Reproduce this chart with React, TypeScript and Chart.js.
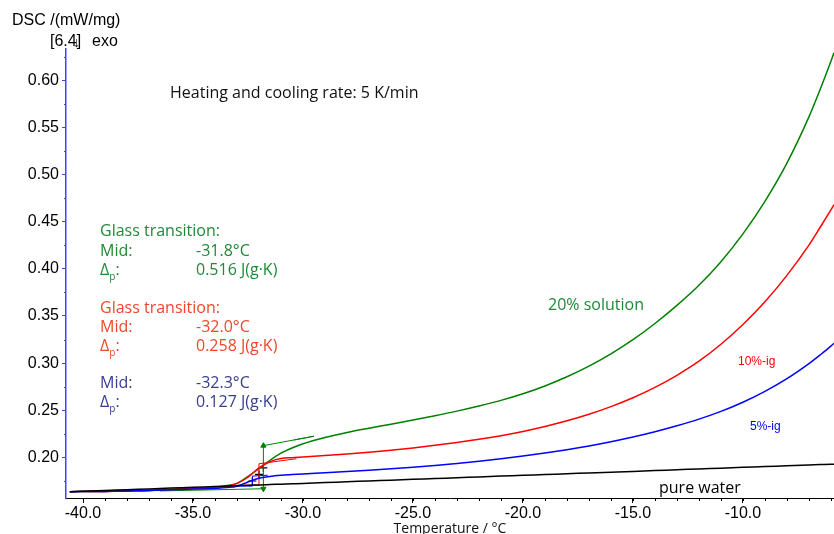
import React, { useEffect, useRef } from "react";
import { Chart, registerables } from "chart.js";

Chart.register(...registerables);

// Temperatures (°C) at which the curves were read
const temps = [-40.6, -39, -38, -37, -36, -35, -34, -33.5, -33, -32.5, -32, -31.5, -31, -30.5, -30, -29, -28, -27, -26, -25, -24, -23, -22, -21, -20, -19, -18, -17, -16, -15, -14, -13, -12, -11, -10, -9, -8, -7, -6.5, -6, -5.86];

// DSC signal (mW/mg)
const solution20 = [0.1637, 0.164, 0.1645, 0.165, 0.166, 0.167, 0.1685, 0.170, 0.1725, 0.180, 0.188, 0.197, 0.2045, 0.210, 0.2145, 0.2212, 0.2265, 0.231, 0.2352, 0.2396, 0.2442, 0.2491, 0.2545, 0.2605, 0.2675, 0.2758, 0.2855, 0.2968, 0.3098, 0.3248, 0.342, 0.3612, 0.3825, 0.4075, 0.437, 0.4715, 0.512, 0.561, 0.5895, 0.620, 0.629];
const ig10 = [0.1637, 0.164, 0.1645, 0.165, 0.166, 0.167, 0.168, 0.169, 0.1725, 0.179, 0.189, 0.1955, 0.1988, 0.1998, 0.2005, 0.202, 0.2037, 0.2056, 0.2077, 0.2101, 0.2128, 0.2158, 0.2192, 0.2231, 0.2276, 0.2328, 0.2388, 0.2458, 0.2539, 0.2633, 0.2743, 0.2871, 0.302, 0.320, 0.341, 0.365, 0.393, 0.425, 0.4435, 0.4625, 0.468];
const ig5 = [0.1637, 0.164, 0.1645, 0.165, 0.1658, 0.1665, 0.167, 0.168, 0.1695, 0.174, 0.178, 0.1798, 0.181, 0.1818, 0.1825, 0.1837, 0.185, 0.1864, 0.1879, 0.1896, 0.1915, 0.1936, 0.1959, 0.1985, 0.2014, 0.2046, 0.2082, 0.2122, 0.2167, 0.2217, 0.2273, 0.2336, 0.2406, 0.2488, 0.2585, 0.270, 0.2835, 0.2995, 0.3085, 0.318, 0.321];
const pureWater = [0.1637, 0.1649, 0.1658, 0.1666, 0.1675, 0.1683, 0.1692, 0.1696, 0.170, 0.1704, 0.1709, 0.1713, 0.1717, 0.1721, 0.1725, 0.1734, 0.1742, 0.1751, 0.1759, 0.1768, 0.1776, 0.1785, 0.1793, 0.1802, 0.181, 0.1819, 0.1827, 0.1836, 0.1844, 0.1852, 0.1861, 0.1869, 0.1878, 0.1886, 0.1895, 0.1903, 0.1912, 0.192, 0.1924, 0.1928, 0.1929];

// Glass transition construction (T, value)
const greenArrowT = [-31.8, -31.8];
const greenArrowV = [0.1668, 0.2125];
const greenUpperT = [-31.8, -29.5, -30.4];
const greenUpperV = [0.2125, 0.2225, 0.2185];
const greenLowerT = [-36.5, -31.8];
const greenLowerV = [0.1645, 0.1668];
const redStepT = [-33.0, -32.0, -32.0, -30.3];
const redStepV = [0.1705, 0.1705, 0.1933, 0.1986];
const blueStepT = [-33.3, -32.3, -32.3, -31.6];
const blueStepV = [0.1696, 0.1696, 0.1802, 0.1812];
const midT = [-31.8, -32.0, -32.3];
const midV = [0.189, 0.182, 0.175];

const xMajorTicks = [-40, -35, -30, -25, -20, -15, -10];
const yMajorTicks = [0.2, 0.25, 0.3, 0.35, 0.4, 0.45, 0.5, 0.55, 0.6];
const xMinorTicks = [-40, -39, -38, -37, -36, -35, -34, -33, -32, -31, -30, -29, -28, -27, -26, -25, -24, -23, -22, -21, -20, -19, -18, -17, -16, -15, -14, -13, -12, -11, -10, -9, -8, -7, -6];
const yMinorTicks = [0.175, 0.225, 0.275, 0.325, 0.375, 0.425, 0.475, 0.525, 0.575, 0.625];

const GREEN = "rgb(0,128,0)";
const RED = "rgb(255,0,0)";
const BLUE = "rgb(0,0,255)";
const TXT_GREEN = "rgb(30,138,55)";
const TXT_RED = "rgb(240,70,45)";
const TXT_NAVY = "rgb(55,62,142)";
const HUM = "'Open Sans', 'Noto Sans', sans-serif";
const ARIAL = "'Liberation Sans', Arial, sans-serif";

const pts = (xs: number[], ys: number[]) => xs.map((x, i) => ({ x, y: ys[i] }));

const curve = (data: number[], color: string) => ({
  data: pts(temps, data),
  borderColor: color,
  borderWidth: 1.5,
  pointRadius: 0,
  cubicInterpolationMode: "monotone" as const,
  fill: false,
});

const thin = (xs: number[], ys: number[], color: string) => ({
  data: pts(xs, ys),
  borderColor: color,
  borderWidth: 1,
  pointRadius: 0,
  tension: 0,
  fill: false,
});

const textPlugin = {
  id: "texts",
  afterDraw(chart: any) {
    const ctx = chart.ctx;
    const xs = chart.scales.x;
    const ys = chart.scales.y;
    ctx.save();
    // minor ticks
    ctx.lineWidth = 1;
    ctx.strokeStyle = "#000";
    const bottom = chart.chartArea.bottom;
    xMinorTicks.forEach((t) => {
      const px = Math.round(xs.getPixelForValue(t)) + 0.5;
      ctx.beginPath();
      ctx.moveTo(px, bottom);
      ctx.lineTo(px, bottom + 3);
      ctx.stroke();
    });
    ctx.strokeStyle = "rgb(64,64,255)";
    const left = chart.chartArea.left;
    yMinorTicks.forEach((v) => {
      const py = Math.round(ys.getPixelForValue(v)) + 0.5;
      ctx.beginPath();
      ctx.moveTo(left - 2, py);
      ctx.lineTo(left, py);
      ctx.stroke();
    });

    ctx.textBaseline = "middle";
    ctx.textAlign = "left";
    const t = (s: string, x: number, y: number, color: string, font: string) => {
      ctx.fillStyle = color;
      ctx.font = font;
      ctx.fillText(s, x, y);
    };
    const delta = (x: number, y: number, color: string) => {
      t("Δ", x, y, color, `16px ${HUM}`);
      const w = ctx.measureText("Δ").width;
      t("p", x + w, y + 7, color, `10px ${HUM}`);
      const w2 = ctx.measureText("p").width;
      t(":", x + w + w2, y, color, `16px ${HUM}`);
    };
    t("DSC /(mW/mg)", 12, 21, "#000", `16px ${ARIAL}`);
    t("[6.4]", 50, 42, "#000", `16px ${ARIAL}`);
    t("↓", 73, 43, "#000", `14px ${ARIAL}`);
    t("exo", 92, 42, "#000", `16px ${ARIAL}`);
    t("Heating and cooling rate: 5 K/min", 170, 93, "#111", `16px ${HUM}`);

    const f = `16px ${HUM}`;
    t("Glass transition:", 100, 231, TXT_GREEN, f);
    t("Mid:", 100, 251, TXT_GREEN, f);
    t("-31.8°C", 196, 251, TXT_GREEN, f);
    delta(100, 270, TXT_GREEN);
    t("0.516 J(g·K)", 196, 270, TXT_GREEN, f);

    t("Glass transition:", 100, 308, TXT_RED, f);
    t("Mid:", 100, 327, TXT_RED, f);
    t("-32.0°C", 196, 327, TXT_RED, f);
    delta(100, 346, TXT_RED);
    t("0.258 J(g·K)", 196, 346, TXT_RED, f);

    t("Mid:", 100, 383, TXT_NAVY, f);
    t("-32.3°C", 196, 383, TXT_NAVY, f);
    delta(100, 402, TXT_NAVY);
    t("0.127 J(g·K)", 196, 402, TXT_NAVY, f);

    t("20% solution", 548, 305, TXT_GREEN, f);
    t("10%-ig", 738, 362, RED, `12px ${ARIAL}`);
    t("5%-ig", 750, 427, BLUE, `12px ${ARIAL}`);
    t("pure water", 659, 488, "#000", f);
    ctx.textAlign = "center";
    t("Temperature / °C", (chart.chartArea.left + chart.chartArea.right) / 2, 529, "#111", `14px ${HUM}`);
    ctx.restore();
  },
};

export default function App() {
  const ref = useRef<HTMLCanvasElement>(null);
  useEffect(() => {
    document.body.style.margin = "0";
    const chart = new Chart(ref.current!, {
      type: "line",
      data: {
        datasets: [
          curve(pureWater, "#000"),
          curve(ig5, BLUE),
          curve(ig10, RED),
          curve(solution20, GREEN),
          thin(greenLowerT, greenLowerV, GREEN),
          thin(greenUpperT, greenUpperV, GREEN),
          {
            data: pts(greenArrowT, greenArrowV),
            borderColor: GREEN,
            backgroundColor: GREEN,
            borderWidth: 1,
            pointStyle: "triangle",
            pointRadius: 3,
            pointRotation: [180, 0],
            tension: 0,
          },
          thin(redStepT, redStepV, RED),
          thin(blueStepT, blueStepV, BLUE),
          {
            data: pts(midT, midV),
            showLine: false,
            pointStyle: "cross",
            pointRadius: 4,
            borderColor: "#000",
            borderWidth: 1.2,
          },
        ] as any,
      },
      options: {
        animation: false,
        responsive: false,
        maintainAspectRatio: false,
        layout: { autoPadding: false, padding: { top: 49, left: 0, right: 0, bottom: 0 } },
        plugins: { legend: { display: false }, tooltip: { enabled: false } },
        scales: {
          x: {
            type: "linear",
            min: -40.773,
            max: -5.86,
            afterFit: (s: any) => { s.height = 36; },
            afterBuildTicks: (s: any) => { s.ticks = xMajorTicks.map((v) => ({ value: v })); },
            ticks: {
              callback: (v: any) => Number(v).toFixed(1),
              color: "#000",
              font: { family: ARIAL, size: 16 },
              padding: 1,
              maxRotation: 0,
              autoSkip: false,
            },
            grid: { drawOnChartArea: false, drawTicks: true, tickLength: 5, color: "#000" },
            border: { color: "#000", width: 1 },
          },
          y: {
            type: "linear",
            min: 0.157,
            max: 0.633,
            afterFit: (s: any) => { s.width = 66; },
            afterBuildTicks: (s: any) => { s.ticks = yMajorTicks.map((v) => ({ value: v })); },
            ticks: {
              callback: (v: any) => Number(v).toFixed(2),
              color: "#000",
              font: { family: ARIAL, size: 16 },
              padding: 3,
              autoSkip: false,
            },
            grid: { drawOnChartArea: false, drawTicks: true, tickLength: 4, color: "rgb(64,64,255)" },
            border: { color: "rgb(64,64,255)", width: 1.5 },
          },
        },
      },
      plugins: [textPlugin],
    });
    return () => chart.destroy();
  }, []);
  return (
    <div style={{ width: 834, height: 534, position: "relative", background: "#fff" }}>
      <canvas ref={ref} width={834} height={534} style={{ width: 834, height: 534 }} />
    </div>
  );
}
